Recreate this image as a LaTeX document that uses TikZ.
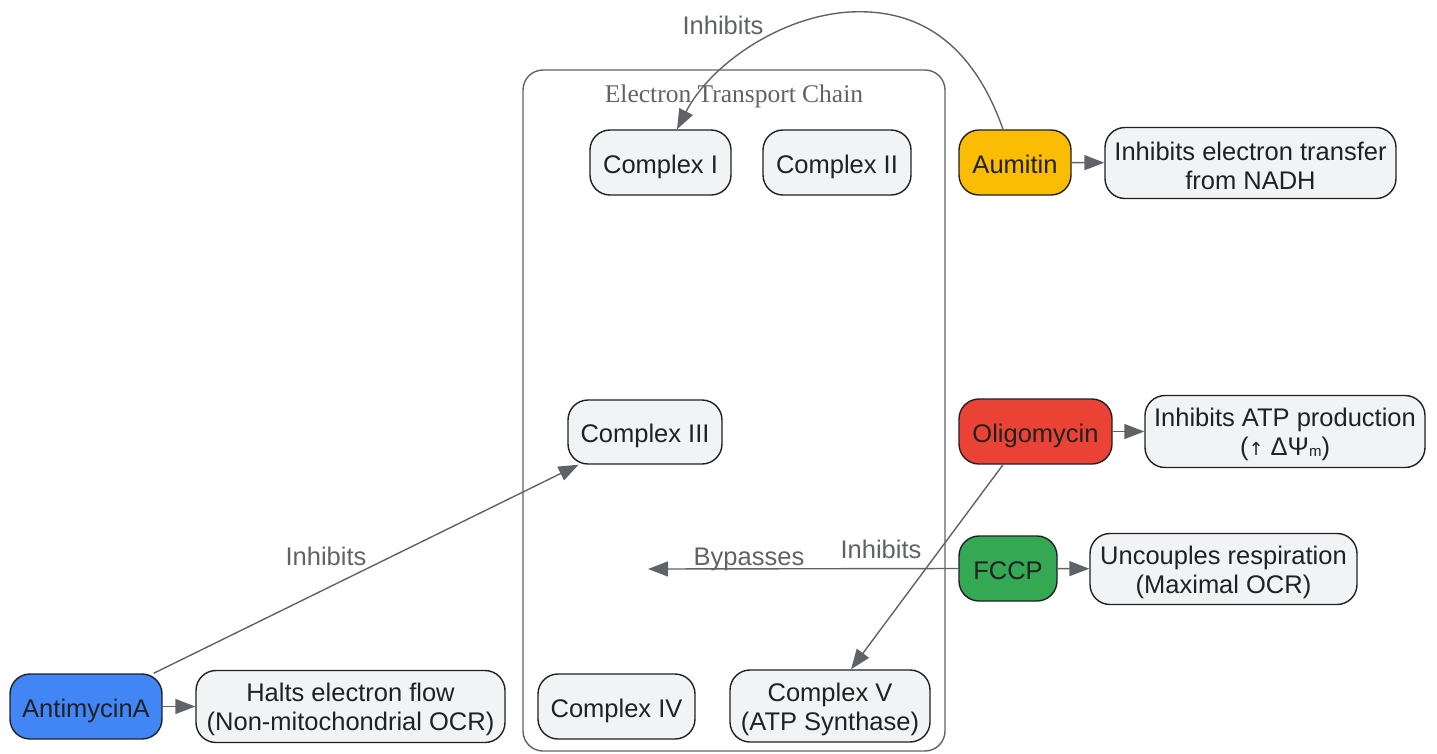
\documentclass[tikz,border=0pt]{standalone}
\usepackage{fontspec}
\setmainfont{Liberation Sans}
\newfontfamily\serifface{Liberation Serif}
\newfontfamily\dvface{DejaVu Sans}
\usetikzlibrary{arrows.meta}
\definecolor{boxc}{HTML}{F1F3F4}
\definecolor{bordc}{HTML}{202124}
\definecolor{edgec}{HTML}{5F6368}
\definecolor{aumc}{HTML}{FBBC04}
\definecolor{oligc}{HTML}{EA4335}
\definecolor{fccpc}{HTML}{34A853}
\definecolor{antic}{HTML}{4285F4}
\newcommand\fsz{\fontsize{25.5}{29}\selectfont}
\newcommand\topstrut{\rule{0pt}{24.5pt}}
\tikzset{
  nbox/.style={draw=bordc, fill=boxc, rounded corners=20pt, line width=1.4pt,
    align=center, inner sep=0pt, text=bordc, font=\fsz, minimum height=65pt},
  oneline/.style={text height=21pt, text depth=0pt},
  cluster/.style={draw=edgec, rounded corners=20pt, line width=1.4pt, inner sep=0pt},
  edge/.style={draw=edgec, line width=1.4pt, -{Triangle[length=20pt,width=15pt]}},
  elabel/.style={text=edgec, font=\fsz, inner sep=0pt, text height=19pt, text depth=0pt},
}
\begin{document}
\begin{tikzpicture}[x=1pt,y=-1pt]
\useasboundingbox (0,0) rectangle (1437,753);
% cluster
\node[cluster, minimum width=422pt, minimum height=681pt] (etc) at (734,410.5) {};
\node[text=edgec, font=\serifface\fsz, inner sep=0pt, text height=17pt, text depth=0pt] (etclab) at (734,94) {Electron Transport Chain};
% complexes
\node[nbox, oneline, minimum width=141pt] (c1) at (660.5,162.5) {Complex I};
\node[nbox, oneline, minimum width=148pt] (c2) at (837,162.5) {Complex II};
\node[nbox, oneline, minimum width=154pt, minimum height=64pt] (c3) at (645,432) {Complex III};
\node[nbox, oneline, minimum width=157pt] (c4) at (616.5,706.5) {Complex IV};
\node[nbox, minimum width=200pt, minimum height=72pt] (c5) at (830,706) {\topstrut Complex V\\(ATP Synthase)};
% drugs
\node[nbox, oneline, fill=aumc, minimum width=112pt] (aum) at (1015,162.5) {Aumitin};
\node[nbox, oneline, fill=oligc, minimum width=153pt] (olig) at (1035.5,431.5) {Oligomycin};
\node[nbox, oneline, fill=fccpc, minimum width=98pt] (fccp) at (1008,568.5) {FCCP};
\node[nbox, oneline, fill=antic, minimum width=152pt] (anti) at (86,706.5) {AntimycinA};
% effects
\node[nbox, minimum width=291pt, minimum height=71pt] (eaum) at (1250.5,163) {\topstrut Inhibits electron transfer\\from NADH};
\node[nbox, minimum width=280pt, minimum height=72pt] (eolig) at (1285,431.5) {\topstrut Inhibits ATP production\\({\dvface\fontsize{18}{29}\selectfont ↑} ΔΨ\raisebox{-1pt}{\fontsize{15}{15}\selectfont m})};
\node[nbox, minimum width=267pt, minimum height=71pt] (efccp) at (1223.5,569) {\topstrut Uncouples respiration\\(Maximal OCR)};
\node[nbox, minimum width=309pt, minimum height=72pt] (eanti) at (350.5,706.5) {\topstrut Halts electron flow\\(Non-mitochondrial OCR)};
% short arrows
\draw[edge] (aum) -- (eaum);
\draw[edge] (olig) -- (eolig);
\draw[edge] (fccp) -- (efccp);
\draw[edge] (anti) -- (eanti);
% inhibit edges
\draw[edge] ([xshift=-12pt]aum.north) .. controls (975,50) and (925,8) .. (850,12)
  .. controls (780,16) and (710,65) .. ([xshift=16.5pt]c1.north);
\draw[edge] (anti) -- (c3);
\draw[edge] ([xshift=-32.5pt]olig.south) -- ([xshift=21pt]c5.north);
\coordinate (bp) at (648,569);
\draw[edge] (fccp.west) -- (bp);
% labels
\node[elabel] (l1) at (723,25) {Inhibits};
\node[elabel] (l2) at (326,556) {Inhibits};
\node[elabel] (l3) at (881,549) {Inhibits};
\node[elabel] (l4) at (749,556) {Bypasses};
\end{tikzpicture}
\end{document}
